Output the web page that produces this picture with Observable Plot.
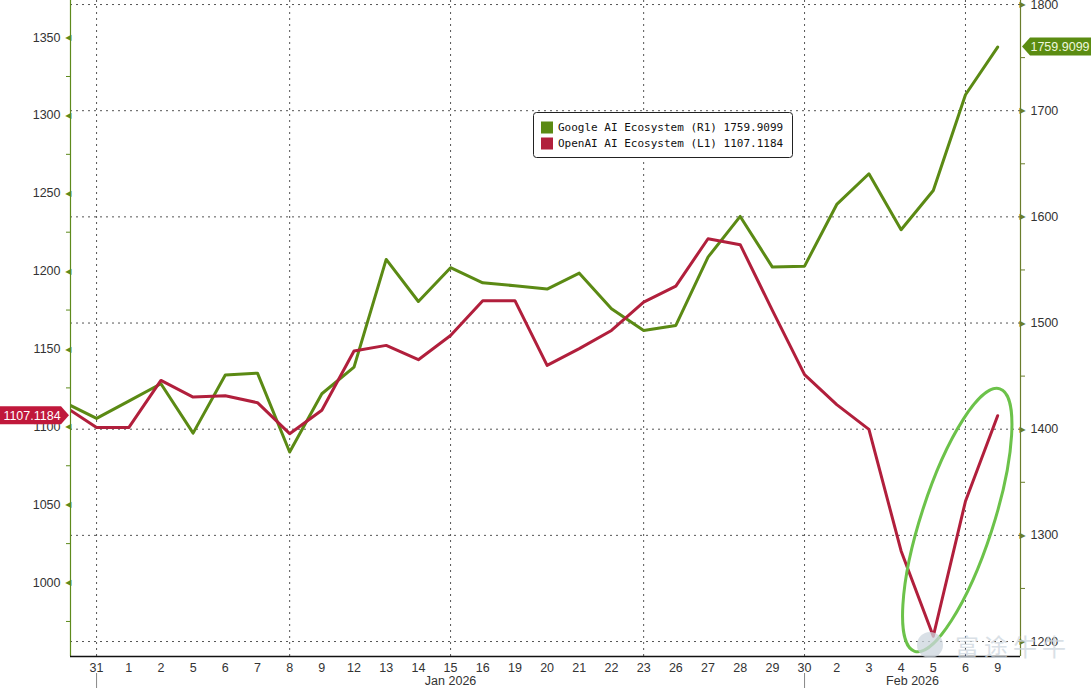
<!DOCTYPE html>
<html><head><meta charset="utf-8">
<script src="https://cdn.jsdelivr.net/npm/d3@7"></script>
<script src="https://cdn.jsdelivr.net/npm/@observablehq/plot@0.6"></script>
<style>body{margin:0;background:#fff}#chart svg{display:block}</style>
</head><body><div id="chart"></div>
<script>
// ---- data ----
const dayLabels = ["30","31","1","2","5","6","7","8","9","12","13","14","15","16","19","20","21","22","23","26","27","28","29","30","2","3","4","5","6","9"];
const google = [1425.2,1410.2,1426.5,1442.8,1396.3,1451.0,1452.8,1378.5,1433.4,1458.5,1559.9,1520.3,1552.1,1537.9,1535.1,1532.0,1547.0,1513.5,1493.0,1497.7,1562.1,1600.4,1552.7,1553.6,1611.7,1640.6,1587.9,1624.9,1715.0,1759.9099];
const openai = [1113.2,1099.5,1099.5,1129.8,1119.1,1120.0,1115.5,1095.6,1110.6,1148.7,1152.3,1143.1,1158.7,1181.0,1181.0,1139.5,1150.2,1161.9,1180.1,1190.4,1220.8,1217.0,1174.8,1133.5,1114.3,1098.4,1020.3,965.5,1052.2,1107.1184];
const seriesNames = ["Google AI Ecosystem", "OpenAI AI Ecosystem"];
const seriesAxes = ["R1", "L1"];
const leftMajor = [1000,1050,1100,1150,1200,1250,1300,1350];
const leftMinor = [975,1025,1075,1125,1175,1225,1275,1325];
const rightMajor = [1200,1300,1400,1500,1600,1700,1800];
const rightMinor = [1250,1350,1450,1550,1650,1750];
const gridIdx = [1,7,12,18,23,28];          // 31, 8, 15, 23, 30, 6
const monthStarts = [1,23];
const monthNames = ["Jan 2026","Feb 2026"];

// ---- scales / layout ----
const W = 1091, H = 688;
const green = "#5b8a14", red = "#b11f3c", axisGreenL = "#5e8a1c", axisGreenR = "#6a7d2c";
const xDomain = [0.19, 29.71];
const yDomain = [952.5, 1373.8];
const rDomain = [1185.9, 1803.8];
const toL = d3.scaleLinear().domain(rDomain).range(yDomain);
const font = "'Liberation Sans', Arial, sans-serif";

const rows = dayLabels.map((d, i) => ({i, label: d, google: google[i], openai: openai[i]}));
const monthBounds = [...monthStarts, xDomain[1]];
const months = monthNames.map((m, k) => ({label: m, pos: (monthBounds[k] + monthBounds[k+1]) / 2}));
const dash = {stroke: "#555", strokeDasharray: "2,4", strokeWidth: 1};

const plot = Plot.plot({
  width: W, height: H,
  marginLeft: 70, marginRight: 71, marginTop: 0, marginBottom: 32,
  style: {fontFamily: font, fontSize: "12.5px", color: "#333", background: "#fff", overflow: "visible"},
  x: {type: "linear", domain: xDomain, axis: null},
  y: {domain: yDomain, axis: null},
  marks: [
    Plot.ruleY(rightMajor.map(toL), dash),
    Plot.ruleX(gridIdx, dash),
    Plot.line(rows, {x: "i", y: d => toL(d.google), stroke: green, strokeWidth: 3, clip: true}),
    Plot.line(rows, {x: "i", y: "openai", stroke: red, strokeWidth: 3, clip: true}),
    // left axis
    Plot.ruleX([xDomain[0]], {stroke: axisGreenL, strokeWidth: 1.2}),
    Plot.axisY({ticks: leftMinor, anchor: "left", label: null, tickSize: 4, tickFormat: () => "", stroke: axisGreenL}),
    Plot.axisY({ticks: leftMajor, anchor: "left", label: null, tickSize: 0, tickPadding: 10, tickFormat: d => String(d), fill: "#333", fontSize: 12.5}),
    Plot.text(leftMajor, {y: d => d, text: () => "\u25C0", frameAnchor: "left", textAnchor: "end", dx: 1, fontSize: 8, fill: axisGreenL, fontFamily: "DejaVu Sans"}),
    // right axis
    Plot.ruleX([xDomain[1]], {stroke: axisGreenR, strokeWidth: 1.2}),
    Plot.axisY({ticks: rightMinor.map(toL), anchor: "right", label: null, tickSize: 4, tickFormat: () => "", stroke: axisGreenR}),
    Plot.axisY({ticks: rightMajor.map(toL), anchor: "right", label: null, tickSize: 0, tickPadding: 10, tickFormat: d => String(Math.round(toL.invert(d))), fill: "#333", fontSize: 12.5}),
    Plot.text(rightMajor, {y: d => toL(d), text: () => "\u25B6", frameAnchor: "right", textAnchor: "start", dx: -1, fontSize: 8, fill: axisGreenR, fontFamily: "DejaVu Sans"}),
    // x axis
    Plot.ruleY([yDomain[0]], {stroke: "#111", strokeWidth: 1.3}),
    Plot.axisX({ticks: rows.slice(1).map(r => r.i), anchor: "bottom", label: null, tickSize: 0, tickPadding: 7, tickFormat: i => dayLabels[i], fill: "#333", fontSize: 12.5}),
    Plot.axisX({ticks: monthStarts, anchor: "bottom", label: null, tickSize: 32, tickFormat: null, text: null, stroke: "#888", strokeDasharray: "0,17,15"}),
    Plot.text(months, {x: "pos", text: "label", frameAnchor: "bottom", dy: 28, fill: "#333", fontSize: 12.5})
  ]
});
document.getElementById("chart").append(plot);

// ---- annotations drawn with the plot's scales ----
const svg = d3.select(plot);
const xs = plot.scale("x"), ys = plot.scale("y");

// ellipse highlight
const ecx = xs.apply(27.76), ecy = ys.apply(1039.8);
svg.append("ellipse").attr("cx", ecx).attr("cy", ecy).attr("rx", 138).attr("ry", 36)
  .attr("transform", `rotate(-72 ${ecx} ${ecy})`)
  .attr("fill", "none").attr("stroke", "#6cc24a").attr("stroke-width", 3);

// value tags
const lastO = openai[openai.length - 1], lastG = google[google.length - 1];
const yo = ys.apply(lastO), yg = ys.apply(toL(lastG));
const gTagO = svg.append("g");
gTagO.append("path").attr("d", `M0,${yo-9}H61L69,${yo}L61,${yo+9}H0Z`).attr("fill", "#c0183b");
gTagO.append("text").attr("x", 32).attr("y", yo).attr("dy", "0.36em").attr("text-anchor", "middle")
  .attr("fill", "#fff").attr("font-family", font).attr("font-size", 12.5).text(lastO.toFixed(4));
const gTagG = svg.append("g");
gTagG.append("path").attr("d", `M1022,${yg}L1030,${yg-9}H1091V${yg+9}H1030Z`).attr("fill", "#5b8c12");
gTagG.append("text").attr("x", 1060).attr("y", yg).attr("dy", "0.36em").attr("text-anchor", "middle")
  .attr("fill", "#eef7dc").attr("font-family", font).attr("font-size", 12.5).text(lastG.toFixed(4));

// legend
const lg = svg.append("g");
lg.append("rect").attr("x", 533.5).attr("y", 112.5).attr("width", 259).attr("height", 45).attr("rx", 3)
  .attr("fill", "#fff").attr("stroke", "#222");
const legendItems = [
  {name: seriesNames[0], ax: seriesAxes[0], v: lastG, c: green},
  {name: seriesNames[1], ax: seriesAxes[1], v: lastO, c: red}
];
legendItems.forEach((it, k) => {
  const cy = 127.5 + k * 16;
  lg.append("rect").attr("x", 541).attr("y", cy - 6).attr("width", 12).attr("height", 12).attr("fill", it.c);
  lg.append("text").attr("x", 558).attr("y", cy).attr("dy", "0.36em").attr("fill", "#111")
    .attr("text-anchor", "start")
    .attr("font-family", "'DejaVu Sans Mono', monospace").attr("font-size", 11)
    .attr("xml:space", "preserve").text(`${it.name} (${it.ax}) ${it.v.toFixed(4)}`);
});

// watermark
const wm = svg.append("g").attr("opacity", 0.75);
wm.append("circle").attr("cx", 930).attr("cy", 645).attr("r", 13).attr("fill", "#cdd6de");
wm.append("text").attr("x", 955).attr("y", 647).attr("dy", "0.36em").attr("fill", "#cdd6de")
  .attr("text-anchor", "start")
  .attr("font-family", "'Noto Sans CJK SC', sans-serif").attr("font-size", 24).attr("letter-spacing", 5).text("富途牛牛");
</script>
</body></html>
